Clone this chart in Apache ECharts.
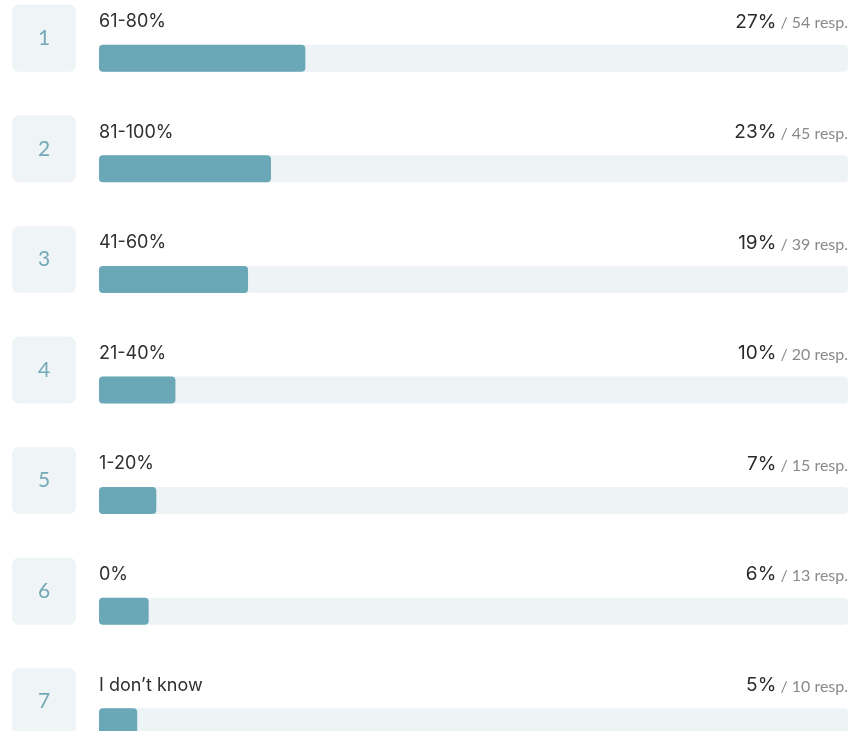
<!DOCTYPE html>
<html>
<head>
<meta charset="utf-8">
<script src="https://cdn.jsdelivr.net/npm/echarts@6/dist/echarts.min.js"></script>
<style>
    html, body { margin: 0; padding: 0; background: #ffffff; }
    #main { width: 852px; height: 731px; }
</style>
</head>
<body>
<div id="main"></div>
<script>
// 选项、百分比、回答人数
var ranks = ['1', '2', '3', '4', '5', '6', '7']
var answers = ['61-80%', '81-100%', '41-60%', '21-40%', '1-20%', '0%', 'I don\u2019t know']
var percents = [27, 23, 19, 10, 7, 6, 5]
var responses = [54, 45, 39, 20, 15, 13, 10]

// 条形长度按回答人数占总数计算
var total = 0
for (let i = 0; i < responses.length; i++) {
    total += responses[i]
}
var trackData = []
for (let i = 0; i < responses.length; i++) {
    trackData.push(total)
}

var chartDom = document.getElementById('main');
var myChart = echarts.init(chartDom);
var option;

option = {
    animation: false,
    grid: {
        left: 99,
        right: 4,
        top: 3,
        height: 774,   // 最后一行超出画面底部
        containLabel: false,
        outerBoundsMode: 'none'
    },
    xAxis: {
        type: 'value',
        min: 0,
        max: total,
        show: false
    },
    yAxis: {
        type: 'category',
        data: ranks,
        inverse: true,
        axisLine: {show: false},
        axisTick: {show: false},
        axisLabel: {
            margin: 23,
            padding: [0, 0, 40, 0],
            formatter: function (v) {
                return '{b|' + v + '}'
            },
            rich: {
                b: {
                    width: 64,
                    height: 67,
                    align: 'center',
                    verticalAlign: 'middle',
                    backgroundColor: '#eff4f7',
                    borderRadius: 7,
                    color: '#73a9b6',
                    fontSize: 21,
                    fontFamily: 'Lato'
                }
            }
        }
    },
    series: [
        {
            // 背景条 + 右侧百分比
            type: 'bar',
            data: trackData,
            barWidth: 27,
            silent: true,
            itemStyle: {
                color: '#eef3f6',
                borderRadius: 4
            },
            label: {
                show: true,
                position: ['100%', -12],
                align: 'right',
                verticalAlign: 'bottom',
                formatter: function (p) {
                    return '{p|' + percents[p.dataIndex] + '%}{r| / ' + responses[p.dataIndex] + ' resp.}'
                },
                rich: {
                    p: {
                        fontSize: 19,
                        fontFamily: 'Inter',
                        color: '#2a2a2a',
                        lineHeight: 22
                    },
                    r: {
                        fontSize: 16,
                        fontFamily: 'Lato',
                        color: '#8a8a8a',
                        lineHeight: 22,
                        padding: [3, 0, 0, 0]
                    }
                }
            }
        },
        {
            // 实际比例 + 左侧选项名
            type: 'bar',
            data: responses,
            barWidth: 27,
            barGap: '-100%',
            itemStyle: {
                color: '#6aa7b7',
                borderRadius: 4
            },
            label: {
                show: true,
                position: [0, -12],
                align: 'left',
                verticalAlign: 'bottom',
                formatter: function (p) {
                    return answers[p.dataIndex]
                },
                fontSize: 18,
                fontFamily: 'Inter',
                color: '#2f2f2f',
                lineHeight: 22
            }
        }
    ]
};

option && myChart.setOption(option);
</script>
</body>
</html>
